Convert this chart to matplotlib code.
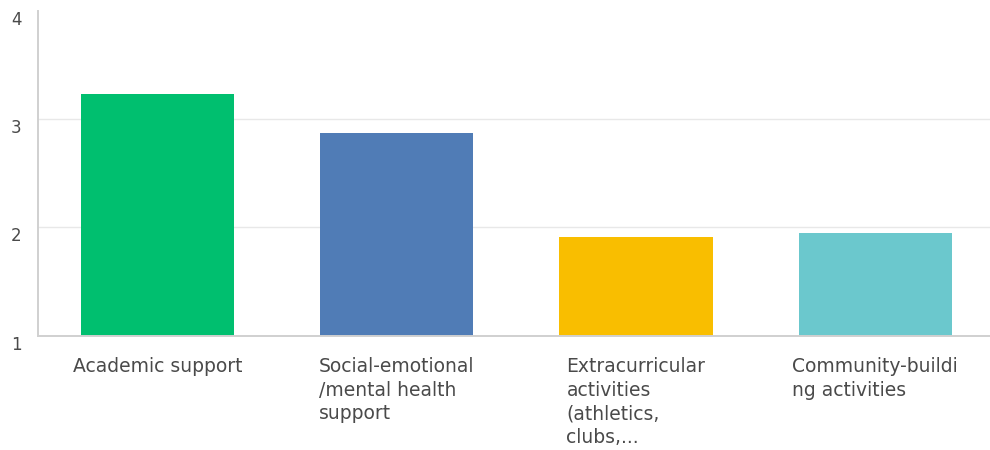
import matplotlib
matplotlib.use("Agg")
import matplotlib.pyplot as plt

# values (average score, axis 1-4)
categories = [
    "Academic support",
    "Social-emotional\n/mental health\nsupport",
    "Extracurricular\nactivities\n(athletics,\nclubs,...",
    "Community-buildi\nng activities",
]
scores = [3.23, 2.87, 1.91, 1.95]
colors = ["#00BF6F", "#507CB6", "#F9BE00", "#6BC8CD"]
y_ticks = [1, 2, 3, 4]

TEXT = "#4a4a4a"

fig = plt.figure(figsize=(9.9, 4.5), dpi=100)
ax = fig.add_axes([38 / 990, 1 - 335.5 / 450, 1 - 38 / 990, (335.5 - 11) / 450])

x = range(len(categories))
ax.bar(x, [s - 1 for s in scores], bottom=1, width=0.64, color=colors, zorder=2)

ax.set_xlim(-0.5, 3.48)
ax.set_ylim(1, 4)
ax.set_yticks(y_ticks)
ax.set_yticklabels([str(t) for t in y_ticks], fontsize=12, color=TEXT)
for lab in ax.get_yticklabels():
    lab.set_va("top")
ax.tick_params(axis="y", length=0, pad=12)
ax.set_xticks([])
ax.grid(axis="y", color="#e8e8e8", linewidth=1, zorder=0)
ax.yaxis.get_gridlines()[-1].set_visible(False)

for side in ("top", "right"):
    ax.spines[side].set_visible(False)
for side in ("left", "bottom"):
    ax.spines[side].set_color("#d0d0d0")
    ax.spines[side].set_linewidth(1.4)

# category labels: block centred under bar, lines left-aligned
for i, label in enumerate(categories):
    ax.text(i, -0.065, label, transform=ax.get_xaxis_transform(),
            ha="center", va="top", multialignment="left",
            fontsize=13.5, color=TEXT, linespacing=1.33)

fig.savefig("out.png", dpi=100)
